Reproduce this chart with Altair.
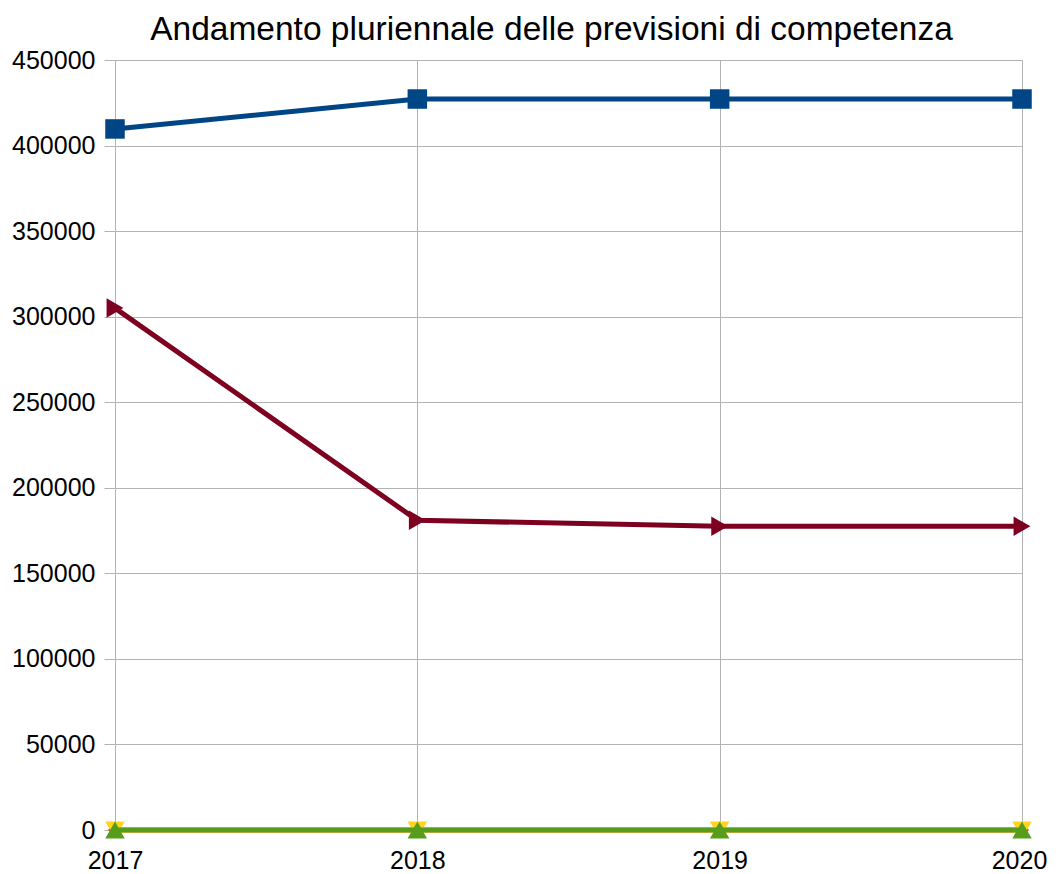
import altair as alt
import pandas as pd

years = ["2017", "2018", "2019", "2020"]
serie_1 = [409700, 427200, 427200, 427200]
serie_2 = [0, 0, 0, 0]
serie_3 = [0, 0, 0, 0]
serie_4 = [0, 0, 0, 0]
serie_5 = [305000, 181000, 177500, 177500]

series = [
    ("Serie 1", serie_1, "#004586", "square", 380),
    ("Serie 2", serie_2, "#ff420e", "diamond", 200),
    ("Serie 3", serie_3, "#ffd320", "triangle-down", 380),
    ("Serie 4", serie_4, "#579d1c", "triangle-up", 380),
    ("Serie 5", serie_5, "#7e0021", "triangle-right", 380),
]

x_enc = alt.X("year:O", scale=alt.Scale(domain=years, padding=0),
              axis=alt.Axis(title=None, labelAngle=0, labelFontSize=25, labelFont="Liberation Sans",
                            labelColor="#000000", ticks=False, labelPadding=18,
                            labelOffset={"condition": {"test": "datum.value === '2020'", "value": -3}, "value": 0},
                            grid=True, gridColor="#b3b3b3", domain=False))
y_enc = alt.Y("value:Q", scale=alt.Scale(domain=[0, 450000], nice=False),
              axis=alt.Axis(title=None, values=list(range(0, 450001, 50000)), format="d",
                            labelFontSize=25, labelFont="Liberation Sans", labelColor="#000000",
                            tickSize=11, tickColor="#b3b3b3", labelPadding=9,
                            grid=True, gridColor="#b3b3b3", domainColor="#b3b3b3"))

layers = []
for i, (name, vals, color, shape, size) in enumerate(series):
    df = pd.DataFrame({"year": years, "value": vals})
    base = alt.Chart(df)
    layers.append(base.mark_line(color=color, strokeWidth=5).encode(x=x_enc, y=y_enc))
    layers.append(base.mark_point(color=color, filled=True, opacity=1, shape=shape, size=size).encode(x=x_enc, y=y_enc))

chart = alt.layer(*layers).properties(
    width=907, height=770,
    title=alt.TitleParams("Andamento pluriennale delle previsioni di competenza",
                          font="Liberation Sans", fontSize=33.5, fontWeight="normal",
                          color="#000000", anchor="middle", offset=1, dx=-17),
    autosize=alt.AutoSizeParams(type="none"),
    padding={"left": 107, "top": 52, "right": 26, "bottom": 42},
).configure_view(stroke=None).configure(background="white")

chart.save("out.html", embed_options={"renderer": "svg", "actions": False})
